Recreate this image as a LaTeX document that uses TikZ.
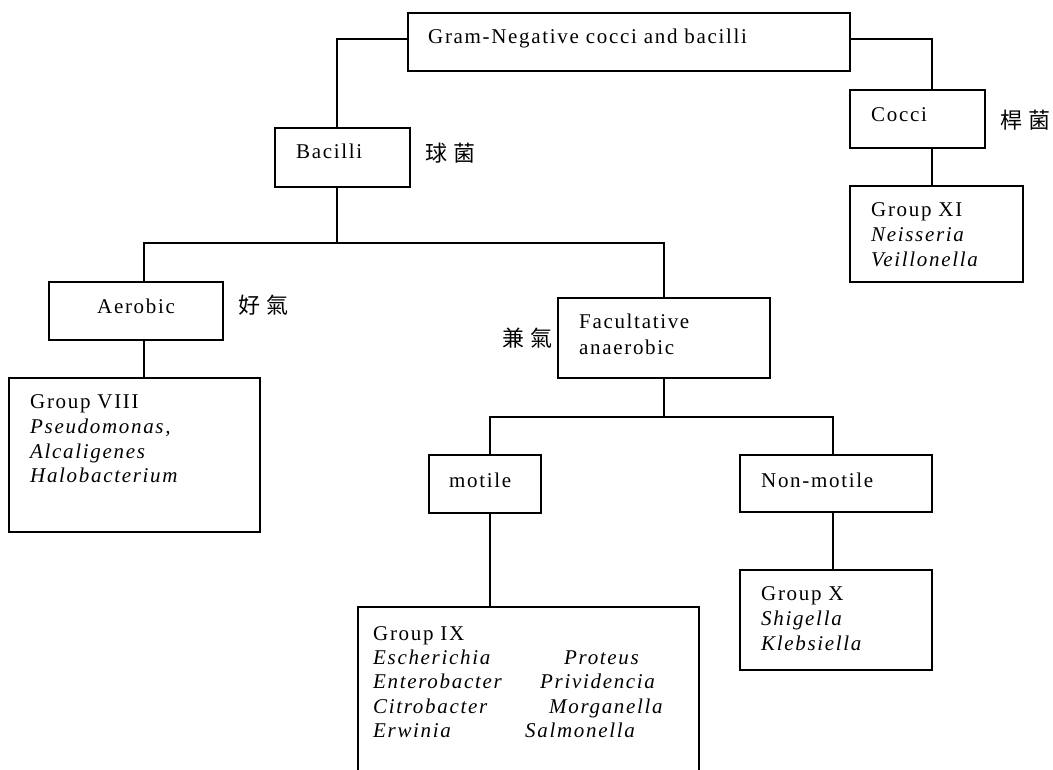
\documentclass[tikz,border=0pt]{standalone}
\usepackage{fontspec}
\setmainfont{Liberation Serif}[LetterSpace=8]
\newfontfamily\cjk{Noto Sans CJK TC}[LetterSpace=30]
\begin{document}
\begin{tikzpicture}[x=1pt,y=-1pt,
  box/.style={draw, line width=1.7pt, inner sep=0pt},
  conn/.style={line width=1.7pt},
  t/.style={anchor=base west, inner sep=0pt, font=\fontsize{21}{24.5}\selectfont},
  it/.style={t, font=\fontsize{21}{24.5}\selectfont\itshape},
  zh/.style={anchor=base west, inner sep=0pt, font=\fontsize{22}{26}\selectfont\cjk}]
\useasboundingbox[fill=white] (0,0) rectangle (1053,770);
% boxes
\node[box, minimum width=442pt, minimum height=58pt] (top) at (629,42) {};
\node[box, minimum width=135pt, minimum height=59pt] (bac) at (342.5,157.5) {};
\node[box, minimum width=135pt, minimum height=58pt] (cocci) at (917.5,119) {};
\node[box, minimum width=173pt, minimum height=96pt] (g11) at (936.5,234) {};
\node[box, minimum width=174pt, minimum height=58pt] (aer) at (136,311) {};
\node[box, minimum width=251pt, minimum height=154pt] (g8) at (134.5,455) {};
\node[box, minimum width=212pt, minimum height=80pt] (fac) at (664,338) {};
\node[box, minimum width=112pt, minimum height=58pt] (mot) at (485,484) {};
\node[box, minimum width=192pt, minimum height=57pt] (non) at (836,483.5) {};
\node[box, draw=none, minimum width=339pt, minimum height=162pt] (g9) at (528.5,689) {};
\node[box, minimum width=192pt, minimum height=100pt] (g10) at (836,620) {};
\draw[conn] (g9.south west) -- (g9.north west) -- (g9.north east) -- (g9.south east);
% connectors
\coordinate (j1) at (337,243);
\coordinate (j2) at (664,417);
\coordinate (cs) at ([xshift=14.5pt]cocci.south);
\coordinate (as) at ([xshift=8pt]aer.south);
\coordinate (ms) at ([xshift=5pt]mot.south);
\coordinate (ns) at ([xshift=-3pt]non.south);
\draw[conn] ([yshift=3pt]top.west) -| ([xshift=-5.5pt]bac.north);
\draw[conn] ([yshift=3pt]top.east) -| ([xshift=14.5pt]cocci.north);
\draw[conn] (cs) -- (cs |- g11.north);
\draw[conn] ([xshift=-5.5pt]bac.south) -- (j1);
\draw[conn] ([xshift=8pt]aer.north) |- (j1) -| (fac.north);
\draw[conn] (as) -- (as |- g8.north);
\draw[conn] (fac.south) -- (j2);
\draw[conn] ([xshift=5pt]mot.north) |- (j2) -| ([xshift=-3pt]non.north);
\draw[conn] (ms) -- (ms |- g9.north);
\draw[conn] (ns) -- (ns |- g10.north);
% texts
\node[t] (tTop) at (428,44) {Gram-Negative cocci and bacilli};
\node[t] (tBac) at (296,159) {Bacilli};
\node[zh] (zBac) at (425,161.4) {球菌};
\node[t] (tCoc) at (871,122) {Cocci};
\node[zh] (zCoc) at (1000,129) {桿菌};
\node[t] (g11a) at (871,217) {Group XI};
\node[it] (g11b) at (871,242) {Neisseria};
\node[it] (g11c) at (871,267) {Veillonella};
\node[t] (tAer) at (97,313) {Aerobic};
\node[zh] (zAer) at (238,313.4) {好氣};
\node[t] (g8a) at (30,408) {Group VIII};
\node[it] (g8b) at (30,433) {Pseudomonas,};
\node[it] (g8c) at (30,458) {Alcaligenes};
\node[it] (g8d) at (30,482) {Halobacterium};
\node[t] (tFac1) at (579,329) {Facultative};
\node[t] (tFac2) at (579,354) {anaerobic};
\node[zh] (zFac) at (502,346.4) {兼氣};
\node[t] (tMot) at (449,487) {motile};
\node[t] (tNon) at (761,487) {Non-motile};
\node[t] (g10a) at (761,600) {Group X};
\node[it] (g10b) at (761,625) {Shigella};
\node[it] (g10c) at (761,650) {Klebsiella};
\node[t] (g9a) at (373,640) {Group IX};
\node[it] (g9b) at (373,664) {Escherichia};
\node[it] (g9c) at (373,688.5) {Enterobacter};
\node[it] (g9d) at (373,713) {Citrobacter};
\node[it] (g9e) at (373,737.5) {Erwinia};
\node[it] (g9f) at (564,664) {Proteus};
\node[it] (g9g) at (540,688.5) {Prividencia};
\node[it] (g9h) at (549,713) {Morganella};
\node[it] (g9i) at (525,737.5) {Salmonella};
\end{tikzpicture}
\end{document}
